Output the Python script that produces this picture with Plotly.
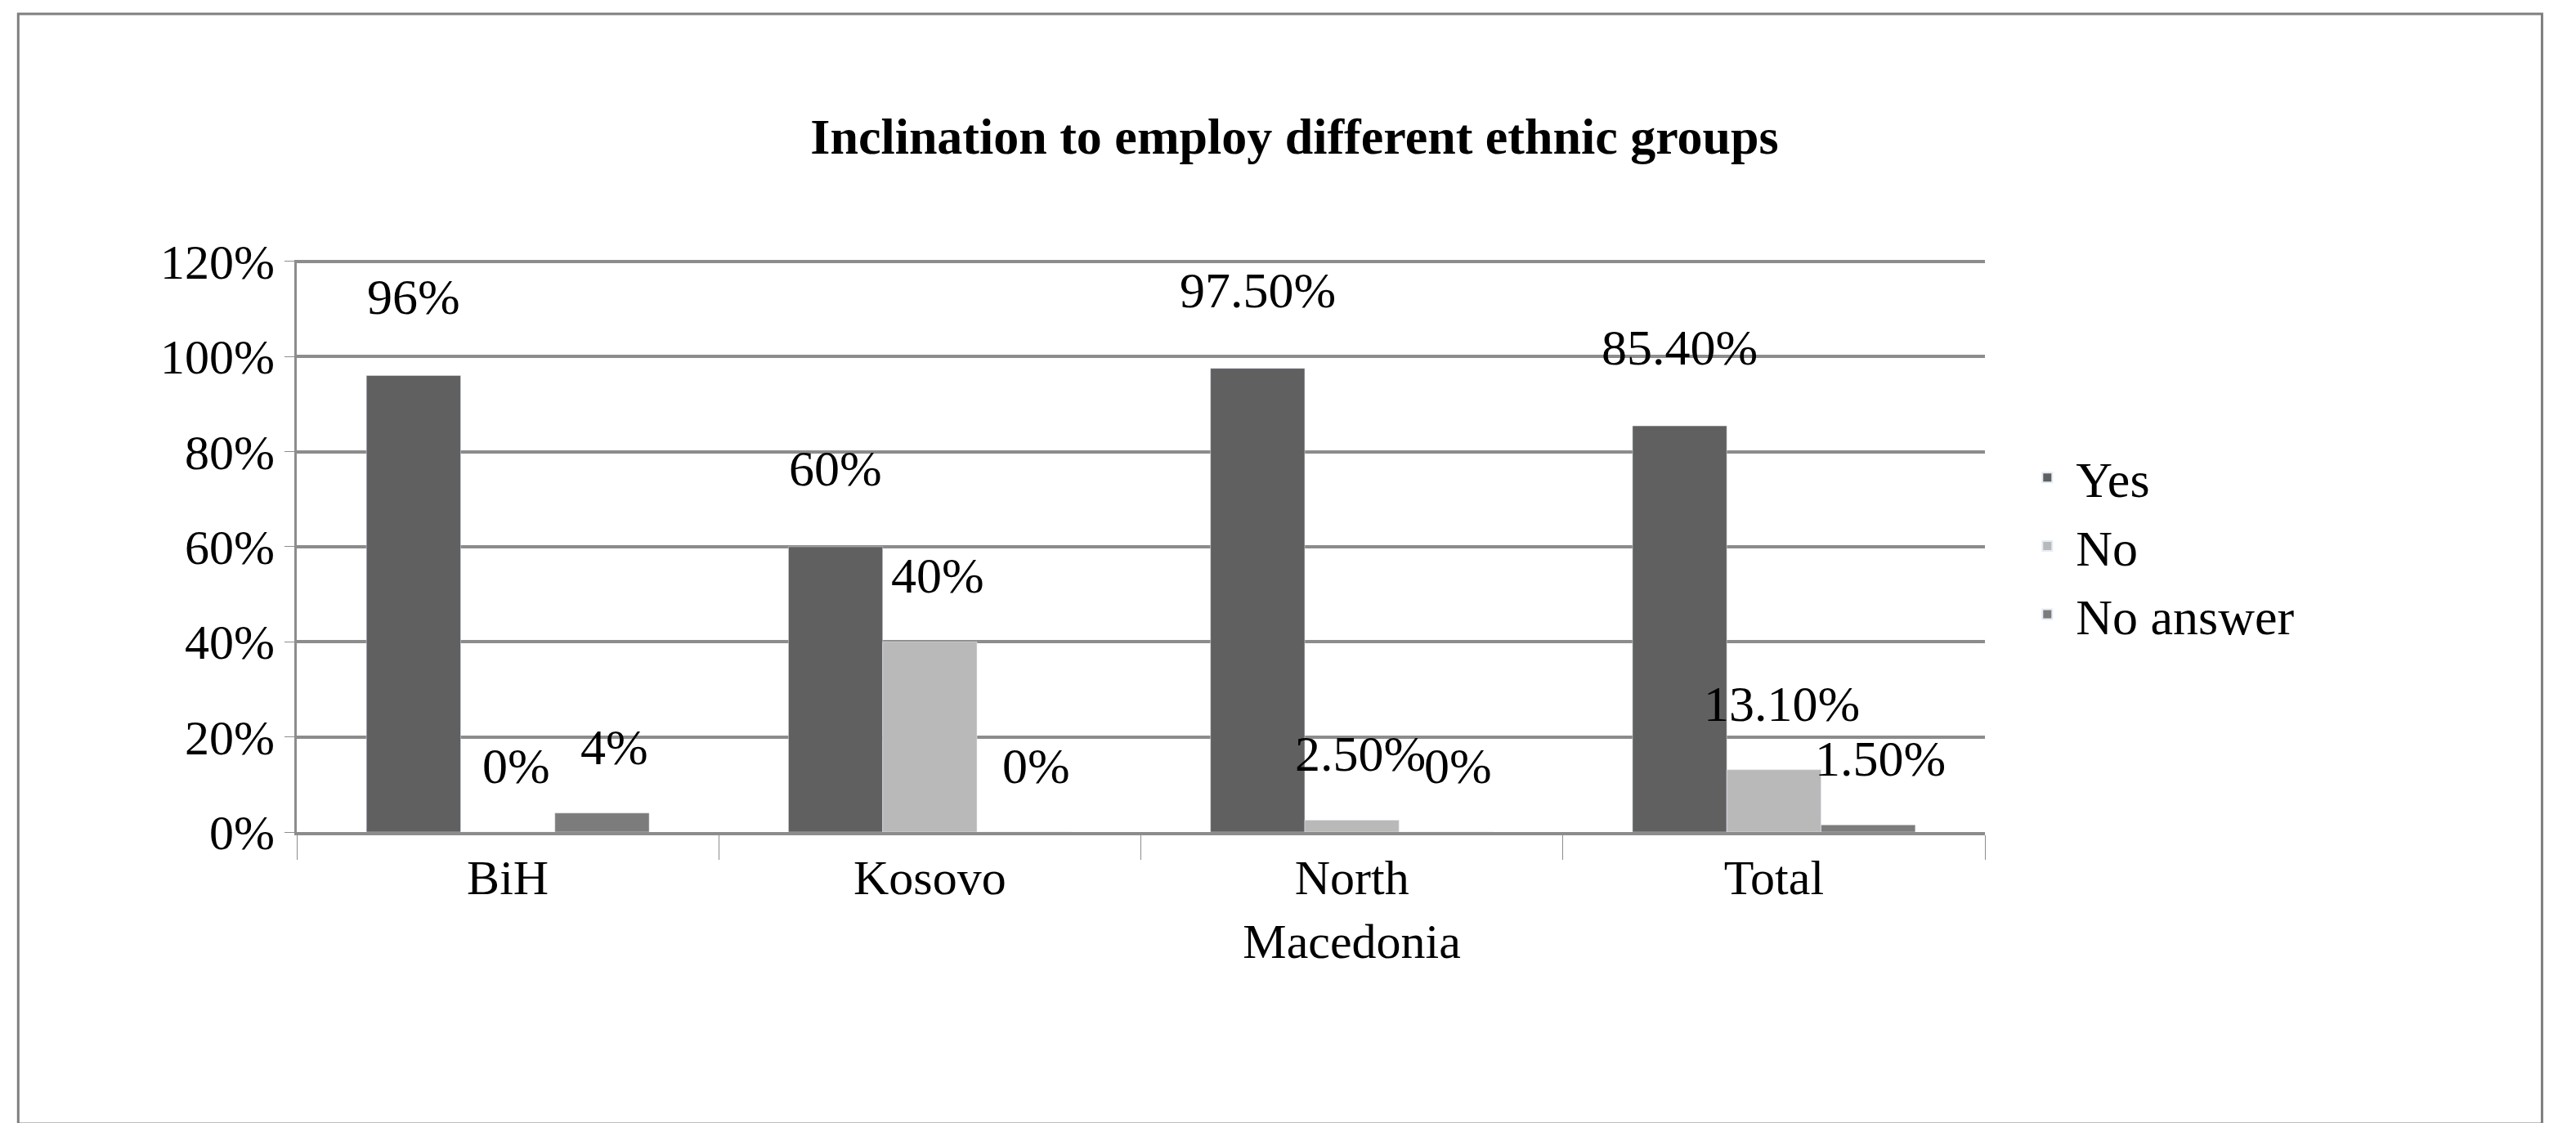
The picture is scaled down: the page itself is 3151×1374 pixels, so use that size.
import plotly.graph_objects as go

categories = ["BiH", "Kosovo", "North<br>Macedonia", "Total"]
yes = [0.96, 0.60, 0.975, 0.854]
no = [0.0, 0.40, 0.025, 0.131]
no_answer = [0.04, 0.0, 0.0, 0.015]
yes_lbl = ["96%", "60%", "97.50%", "85.40%"]
no_lbl = ["0%", "40%", "2.50%", "13.10%"]
na_lbl = ["4%", "0%", "0%", "1.50%"]

font = "Liberation Serif"
fig = go.Figure()
series = [("Yes", yes, yes_lbl, "#606060", -115, 60),
          ("No", no, no_lbl, "#b9b9b9", 10, 45),
          ("No answer", no_answer, na_lbl, "#7c7c7c", 130, 45)]
for name, vals, lbls, col, xs, ys in series:
    fig.add_bar(x=categories, y=vals, name=name, marker_color=col)
    for c, v, t in zip(categories, vals, lbls):
        fig.add_annotation(x=c, y=v, text=t, showarrow=False, xref="x", yref="y",
                           xshift=xs, yshift=ys, yanchor="bottom",
                           font=dict(family=font, size=62, color="black"))

fig.update_layout(
    width=3151, height=1374, paper_bgcolor="white", plot_bgcolor="white",
    margin=dict(l=355, r=731, t=310, b=364),
    barmode="group", bargap=0.33, bargroupgap=0,
    title=dict(text="<b>Inclination to employ different ethnic groups</b>",
               x=0.5, xanchor="center", y=0.885, yanchor="middle",
               font=dict(family=font, size=62, color="black")),
    legend=dict(x=1.02, y=0.5, yanchor="middle", font=dict(family=font, size=62, color="black"),
                itemsizing="constant", itemwidth=60, tracegroupgap=40),
    showlegend=True,
)
fig.update_yaxes(range=[0, 1.203], dtick=0.2, tickformat=".0%", showgrid=True,
                 gridcolor="#8c8c8c", gridwidth=4, zeroline=False,
                 tickfont=dict(family=font, size=60, color="black"),
                 showline=True, linecolor="#8c8c8c", linewidth=3,
                 ticks="outside", ticklen=12, tickcolor="#8c8c8c")
fig.update_xaxes(showline=True, linecolor="#8c8c8c", linewidth=4,
                 tickson="boundaries", ticks="outside", ticklen=30, tickcolor="#8c8c8c",
                 tickfont=dict(family=font, size=60, color="black"))
fig.add_shape(type="rect", xref="paper", yref="paper", x0=-0.165, x1=1.33, y0=-0.51, y1=1.43,
              line=dict(color="#7f7f7f", width=3))
fig.write_html("out.html")
